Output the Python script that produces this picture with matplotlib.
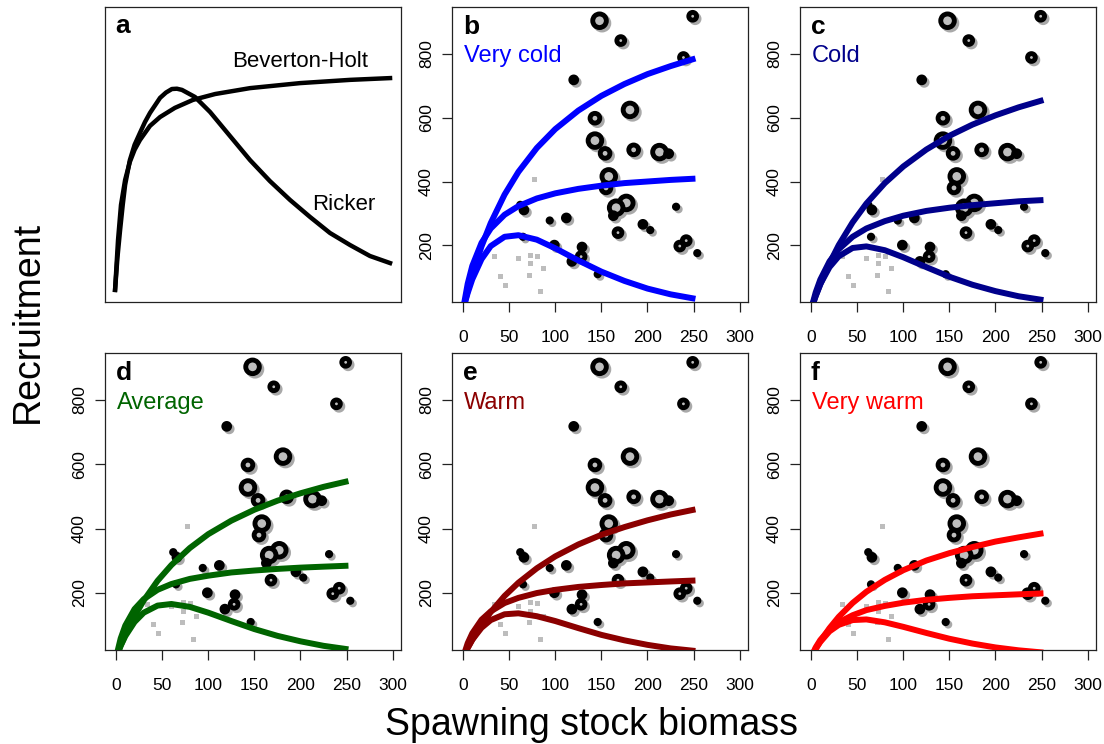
"""
Stock-recruitment curves under five temperature scenarios (panels b-f),
with a schematic Beverton-Holt vs Ricker comparison in panel a.
"""
import matplotlib
matplotlib.use("Agg")
import matplotlib.pyplot as plt
from matplotlib import transforms

plt.rcParams["font.family"] = ["Liberation Sans", "DejaVu Sans"]

# ---- panel a: schematic curves (arbitrary 0-100 units) ----
ricker_x = [3.4, 4.2, 5.1, 6.0, 6.8, 8.4, 10.0, 11.8, 13.5, 15.2, 18.6, 20.6,
            22.6, 24.3, 26.0, 30.4, 35.5, 42.2, 49.0, 55.7, 62.5, 69.3, 76.0,
            82.8, 89.5, 96.3]
ricker_y = [4.1, 15.0, 24.4, 33.0, 39.7, 48.1, 53.3, 57.3, 61.0, 64.1, 69.2,
            71.0, 72.2, 72.3, 71.9, 69.5, 64.4, 56.3, 48.1, 41.0, 34.6, 28.8,
            23.4, 19.3, 15.6, 13.2]
bh_x = [3.4, 4.4, 5.4, 6.8, 8.4, 10.0, 11.8, 15.2, 18.6, 23.6, 29.7, 37.2,
        49.0, 65.9, 82.8, 96.3]
bh_y = [4.1, 21.0, 32.9, 41.4, 47.5, 51.6, 54.9, 59.7, 62.7, 65.8, 68.5,
        70.5, 72.5, 74.2, 75.3, 75.9]

# ---- observed stock-recruitment pairs ----
ssb = [148, 249, 171, 239, 120, 181, 143, 143, 154, 185, 213, 223, 158, 155,
       177, 166, 163, 66, 62, 94, 112, 231, 195, 203, 168, 242, 235, 254,
       99, 129, 128, 118, 146, 65]
rec = [903, 917, 841, 788, 718, 624, 598, 528, 488, 499, 492, 487, 416, 380,
       333, 318, 293, 311, 327, 278, 286, 321, 266, 248, 240, 215, 198, 176,
       201, 195, 165, 150, 110, 227]
weight = [5, 3, 3, 3, 2, 5, 4, 5, 4, 4, 5, 2, 5, 4,
          5, 5, 2, 2, 1, 1, 2, 1, 2, 1, 3, 3, 3, 1,
          2, 2, 3, 2, 1, 1]

# years not used in the fit (grey squares)
excl_ssb = [34, 60, 73, 80, 73, 87, 40, 72, 45, 83, 77]
excl_rec = [166, 161, 171, 168, 145, 130, 105, 109, 77, 56, 408]

# ---- fitted curves: upper, middle, lower (Ricker) per scenario ----
s_grid = [0, 5, 10, 20, 30, 45, 60, 80, 100, 125, 150, 175, 200, 225, 252]
very_cold = [
    [0, 57, 109, 197, 270, 359, 430, 505, 564, 622, 668, 705, 736, 761, 785],
    [0, 80, 136, 208, 253, 296, 323, 347, 363, 377, 387, 395, 400, 405, 409],
    [0, 51, 94, 157, 198, 227, 232, 218, 191, 153, 118, 89, 65, 47, 33],
]
cold = [
    [0, 41, 78, 144, 201, 272, 331, 395, 447, 500, 543, 578, 607, 632, 655],
    [0, 53, 93, 150, 188, 227, 253, 276, 293, 308, 318, 326, 332, 338, 342],
    [0, 43, 79, 132, 166, 192, 197, 185, 163, 132, 102, 77, 57, 41, 29],
]
average = [
    [0, 37, 70, 128, 177, 238, 287, 340, 383, 425, 459, 487, 510, 530, 548],
    [0, 59, 99, 150, 181, 210, 228, 244, 254, 264, 270, 275, 279, 282, 285],
    [0, 36, 66, 110, 139, 161, 166, 157, 139, 113, 88, 67, 50, 36, 25],
]
warm = [
    [0, 29, 55, 101, 141, 191, 232, 277, 314, 351, 381, 405, 426, 444, 460],
    [0, 44, 75, 117, 143, 169, 185, 200, 210, 219, 225, 230, 233, 236, 239],
    [0, 30, 55, 92, 116, 134, 137, 128, 113, 91, 70, 53, 39, 28, 20],
]
very_warm = [
    [0, 26, 50, 91, 126, 169, 204, 241, 271, 301, 324, 343, 360, 373, 386],
    [0, 31, 54, 87, 109, 131, 147, 160, 170, 179, 185, 190, 193, 196, 199],
    [0, 27, 48, 81, 101, 116, 118, 109, 95, 76, 58, 43, 31, 22, 15],
]

scenarios = ["Very cold", "Cold", "Average", "Warm", "Very warm"]
panel_letters = ["b", "c", "d", "e", "f"]
scenario_curves = [very_cold, cold, average, warm, very_warm]
scenario_colours = ["#0000ff", "#00008b", "#006400", "#8b0000", "#ff0000"]

W, H = 1104, 744
fig = plt.figure(figsize=(W / 100, H / 100), dpi=100)


def px_axes(left, top, width, height):
    return fig.add_axes([left / W, 1 - (top + height) / H, width / W, height / H])


def style_frame(ax):
    for sp in ax.spines.values():
        sp.set_linewidth(0.9)
        sp.set_color("#222222")


# marker diameter (points) by weight class; small ones drawn solid
diam = {1: 2.4, 2: 4.2, 3: 5.6, 4: 7.0, 5: 9.8}
sizes = [diam[w] ** 2 for w in weight]
faces = ["#bebebe" if w >= 3 else "black" for w in weight]

# panel a
ax = px_axes(105, 7, 296, 295)
ax.plot(bh_x, bh_y, color="black", lw=3.2, solid_joinstyle="round")
ax.plot(ricker_x, ricker_y, color="black", lw=3.2, solid_joinstyle="round")
ax.set_xlim(0, 100)
ax.set_ylim(0, 100)
ax.set_xticks([])
ax.set_yticks([])
style_frame(ax)
ax.text(0.035, 0.912, "a", transform=ax.transAxes, fontsize=19,
        fontweight="bold", va="baseline")
ax.text(0.659, 0.814, "Beverton-Holt", transform=ax.transAxes, fontsize=16,
        ha="center", va="center")
ax.text(0.807, 0.329, "Ricker", transform=ax.transAxes, fontsize=16,
        ha="center", va="center")

positions = [(452, 7, 295), (800, 7, 295), (105, 353, 297),
             (452, 353, 297), (800, 353, 297)]

for (left, top, h), name, letter, curves, col in zip(
        positions, scenarios, panel_letters, scenario_curves, scenario_colours):
    ax = px_axes(left, top, 296, h)
    shadow = transforms.offset_copy(ax.transData, fig=fig, x=2.5, y=-2.5,
                                    units="dots")
    ax.scatter(excl_ssb, excl_rec, marker="s", s=3.6 ** 2, color="#bdbdbd",
               linewidths=0, zorder=2)
    ax.scatter(ssb, rec, s=sizes, facecolor="#a9a9a9", edgecolor="#a9a9a9",
               linewidths=3.5, transform=shadow, zorder=2.5)
    ax.scatter(ssb, rec, s=sizes, facecolor=faces, edgecolor="black",
               linewidths=3.5, zorder=3)
    for c in curves:
        ax.plot(s_grid, c, color=col, lw=4.3, zorder=4,
                solid_joinstyle="round", solid_capstyle="butt")
    ax.set_xlim(-12, 309)
    ax.set_ylim(23, 946)
    ax.set_xticks(range(0, 301, 50))
    ax.set_yticks([200, 400, 600, 800])
    ax.tick_params(direction="out", length=7.5, width=0.9, labelsize=12.5,
                   colors="#222222", labelcolor="black")
    ax.tick_params(axis="x", pad=12.5)
    ax.tick_params(axis="y", pad=5.5)
    plt.setp(ax.get_yticklabels(), rotation=90, va="center")
    style_frame(ax)
    ax.text(0.037, 0.91, letter, transform=ax.transAxes, fontsize=19,
            fontweight="bold", va="baseline", zorder=6)
    ax.text(0.04, 0.812, name, transform=ax.transAxes, fontsize=17,
            color=col, va="baseline", zorder=6)

fig.text(0.025, 0.567, "Recruitment", rotation=90, fontsize=27,
         ha="center", va="center")
fig.text(0.536, 0.012, "Spawning stock biomass", fontsize=27,
         ha="center", va="baseline")

fig.savefig("out.png", dpi=100)
